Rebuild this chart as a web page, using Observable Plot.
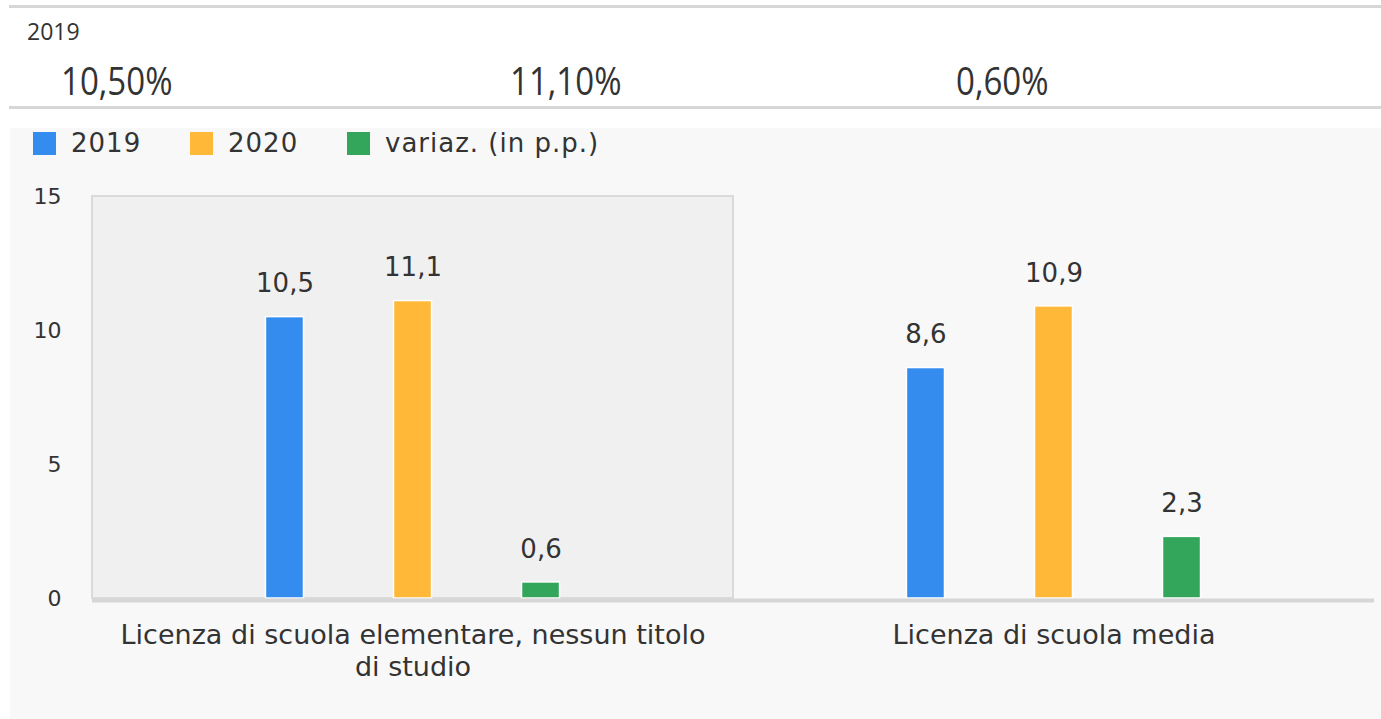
<!DOCTYPE html>
<html>
<head>
<meta charset="utf-8">
<script src="https://cdn.jsdelivr.net/npm/d3@7"></script>
<script src="https://cdn.jsdelivr.net/npm/@observablehq/plot@0.6"></script>
<style>
  html, body { margin: 0; padding: 0; background: #ffffff; }
  body { width: 1381px; height: 719px; overflow: hidden; position: relative; font-family: "Open Sans", sans-serif; color: #333; }
  .hline { position: absolute; left: 9px; right: 0; height: 3px; background: #d6d6d6; }
  #statLabel { position: absolute; left: 27px; top: 15px; font-size: 24px; line-height: 32px; transform: scaleX(0.96); transform-origin: left center; }
  .stat { position: absolute; top: 56px; font-size: 38px; line-height: 48px; font-weight: 400; transform: scaleX(0.87); transform-origin: left center; white-space: nowrap; }
  #panel { position: absolute; left: 10px; top: 128px; width: 1371px; height: 591px; background: #f8f8f8; }
  .leg { position: absolute; top: 3px; height: 24px; display: flex; align-items: center; font-family: "DejaVu Sans", sans-serif; font-size: 26px; letter-spacing: 1px; white-space: nowrap; color: #333; }
  .leg span.sw { display: inline-block; width: 23px; height: 23px; margin-right: 15px; }
  #chart { position: absolute; left: 0; top: 42px; }
</style>
</head>
<body>
<div class="hline" style="top:5px"></div>
<div id="statLabel"></div>
<div id="stats"></div>
<div class="hline" style="top:106px"></div>
<div id="panel">
  <div id="legend"></div>
  <div id="chart"></div>
</div>
<script>
// ---- data ----
const categories = ["Licenza di scuola elementare, nessun titolo di studio", "Licenza di scuola media"];
const categoryLabels = ["Licenza di scuola elementare, nessun titolo\ndi studio", "Licenza di scuola media"];
const seriesNames = ["2019", "2020", "variaz. (in p.p.)"];
const values2019 = [10.5, 8.6];
const values2020 = [11.1, 10.9];
const valuesVariaz = [0.6, 2.3];
const yTicks = [0, 5, 10, 15];
const highlighted = [categories[0]];

// ---- styles ----
const colors = ["#338cee", "#ffb838", "#33a65b"];
const yMax = 15;

const seriesValues = [values2019, values2020, valuesVariaz];
const rows = categories.flatMap((c, i) => seriesValues.map((arr, j) => ({category: c, series: seriesNames[j], value: arr[i]})));
const fmt1 = v => v.toFixed(1).replace(".", ",");
const fmt2 = v => v.toFixed(2).replace(".", ",") + "%";

// top stats (first category)
document.getElementById("statLabel").textContent = seriesNames[0];
const statsDiv = document.getElementById("stats");
const statLefts = [61, 510, 956];
seriesValues.forEach((arr, j) => {
  const d = document.createElement("div");
  d.className = "stat";
  d.style.left = statLefts[j] + "px";
  d.textContent = fmt2(arr[0]);
  statsDiv.appendChild(d);
});

// legend
const legend = document.getElementById("legend");
const legLefts = [23, 180, 337];
seriesNames.forEach((s, j) => {
  const d = document.createElement("div");
  d.className = "leg";
  d.style.left = legLefts[j] + "px";
  d.innerHTML = `<span class="sw" style="background:${colors[j]}"></span>`;
  d.appendChild(document.createTextNode(s));
  legend.appendChild(d);
});

const chart = Plot.plot({
  width: 1371,
  height: 548,
  marginLeft: 82,
  marginRight: 0,
  marginTop: 26,
  marginBottom: 120,
  style: {background: "transparent", fontFamily: "DejaVu Sans", color: "#333", overflow: "visible"},
  fx: {domain: categories, paddingInner: 0, paddingOuter: 0.00546, align: 0, round: false, axis: null, label: null},
  x: {domain: seriesNames, paddingInner: 0.703, paddingOuter: 1.355, round: false, axis: null},
  y: {domain: [0, yMax], axis: null},
  color: {domain: seriesNames, range: colors},
  marks: [
    Plot.rect(highlighted, {fx: d => d, y1: 0, y2: yMax, fill: "#f0f0f0", stroke: "#dadada", strokeWidth: 2}),
    Plot.barY(rows, {fx: "category", x: "series", y: "value", fill: "series", stroke: "white", strokeWidth: 1.5}),
    Plot.ruleY([0], {stroke: "#d6d6d6", strokeWidth: 4, dy: 2}),
    Plot.text(rows, {fx: "category", x: "series", y: "value", text: d => fmt1(d.value), dy: -33, fontSize: 26, fill: "#333"}),
    Plot.axisY(yTicks, {tickSize: 0, tickPadding: 31, fontSize: 22, fill: "#333", label: null, tickFormat: d => String(d)}),
    Plot.axisFx({anchor: "bottom", tickSize: 0, tickPadding: 22, fontSize: 27, lineHeight: 1.2, fill: "#333", label: null,
      tickFormat: d => categoryLabels[categories.indexOf(d)]})
  ]
});
document.getElementById("chart").appendChild(chart);
</script>
</body>
</html>
